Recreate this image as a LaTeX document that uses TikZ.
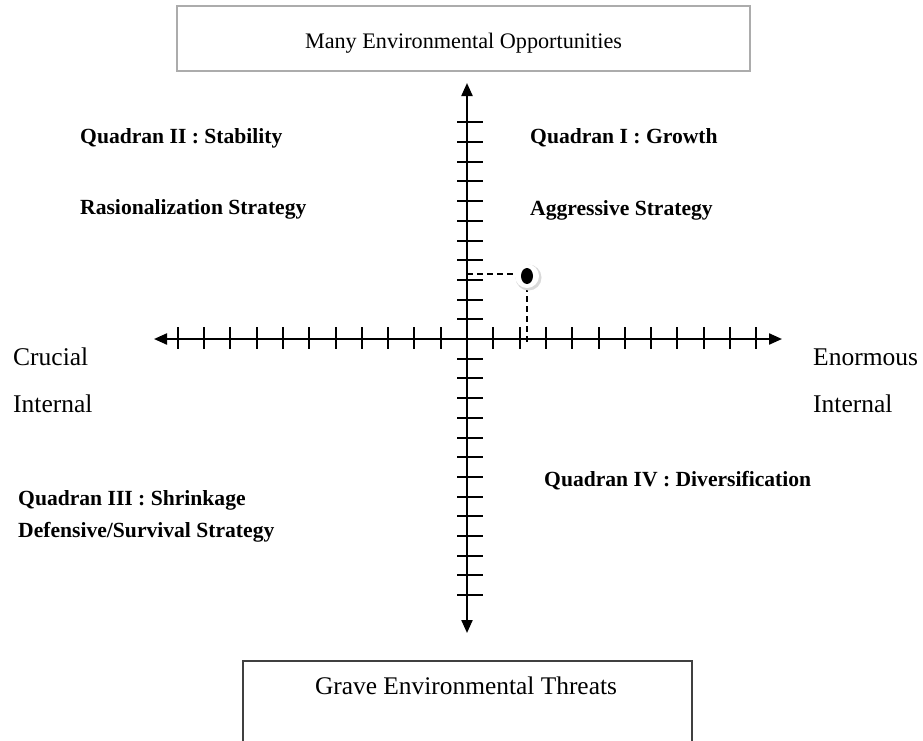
\documentclass[tikz,border=0pt]{standalone}
\usepackage{fontspec}
\setmainfont{Liberation Serif}
\usetikzlibrary{arrows.meta,calc}
\begin{document}
\begin{tikzpicture}[x=1pt,y=-1pt,
  axis/.style={line width=2.2pt,{Triangle[length=13pt,width=11pt]}-{Triangle[length=13pt,width=11pt]}},
  tickmark/.style={line width=2pt},
  guide/.style={line width=1.8pt,dash pattern=on 6pt off 4pt},
  qlabel/.style={anchor=base west,inner sep=0pt,font=\bfseries\fontsize{21.6}{26}\selectfont},
  side/.style={anchor=base west,inner sep=0pt,font=\fontsize{25.5}{30}\selectfont},
  boxtext/.style={anchor=base,inner sep=0pt},
]
\useasboundingbox (0,0) rectangle (923,740);
\fill[white] (0,0) rectangle (923,740);

% opportunity and threat boxes
\draw[gray!65,line width=2.2pt] (177,6) rectangle (750,71);
\node[boxtext,font=\fontsize{22.2}{26}\selectfont] (opp) at (463.5,48) {Many Environmental Opportunities};
\draw[black!75,line width=2.2pt] (243,741) |- (692,661) -- (692,741);
\node[boxtext,font=\fontsize{25.4}{30}\selectfont] (threat) at (466,694) {Grave Environmental Threats};

% axes
\coordinate (O) at (467,339);
\coordinate (top) at (467,83);
\coordinate (bottom) at (467,633);
\coordinate (left) at (154,339);
\coordinate (right) at (782,339);
\draw[axis] (bottom) -- (top);
\draw[axis] (left) -- (right);

% tick marks
\foreach \k in {1,...,11} {
  \draw[tickmark] ($(O)+(-26.3*\k,-12)$) -- ++(0,22);
  \draw[tickmark] ($(O)+(26.3*\k,-12)$) -- ++(0,22);
  \draw[tickmark] ($(O)+(-10,-19.7*\k)$) -- ++(26,0);
}
\foreach \k in {1,...,13} {
  \draw[tickmark] ($(O)+(-10,19.7*\k)$) -- ++(26,0);
}

% position of the company
\coordinate (P) at (527,276);
\coordinate (Py) at (467,274);
\coordinate (Px) at (527,345);
\draw[guide] (Py) -- (P |- Py);
\draw[guide] (P) -- (Px);
\fill[gray!30] ($(P)+(1.5,1.5)$) circle (13);
\fill[white] (P) circle (12);
\fill[black] (P) ellipse (6 and 8);

% quadrant labels
\node[qlabel] (q2) at (80,143) {Quadran II : Stability};
\node[qlabel] (q2s) at (80,214) {Rasionalization Strategy};
\node[qlabel] (q1) at (530,143) {Quadran I : Growth};
\node[qlabel] (q1s) at (530,215) {Aggressive Strategy};
\node[qlabel] (q3) at (18,505) {Quadran III : Shrinkage};
\node[qlabel] (q3s) at (18,537) {Defensive/Survival Strategy};
\node[qlabel] (q4) at (544,486) {Quadran IV : Diversification};

% side labels
\node[side] (cr1) at (13,365) {Crucial};
\node[side] (cr2) at (13,412) {Internal};
\node[side] (en1) at (813,365) {Enormous};
\node[side] (en2) at (813,412) {Internal};
\end{tikzpicture}
\end{document}
